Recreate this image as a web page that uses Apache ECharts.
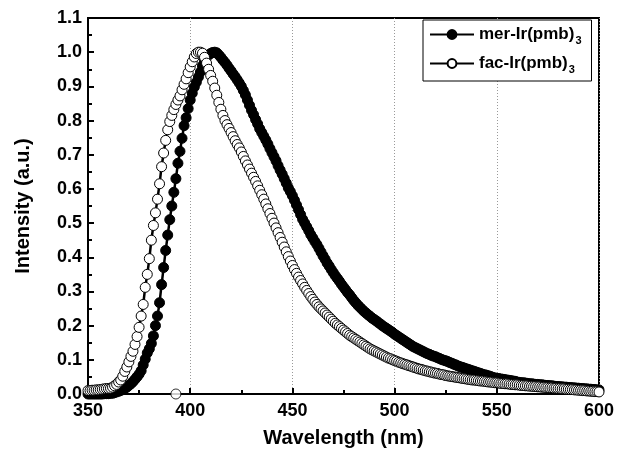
<!DOCTYPE html>
<html><head><meta charset="utf-8">
<script src="https://cdn.jsdelivr.net/npm/echarts@6/dist/echarts.min.js"></script>
<style>html,body{margin:0;padding:0;background:#fff}#c{width:629px;height:455px}</style>
</head><body><div id="c"></div>
<script>
const wavelength = [
350,351,352,353,354,355,356,357,358,359,
360,361,362,363,364,365,366,367,368,369,
370,371,372,373,374,375,376,377,378,379,
380,381,382,383,384,385,386,387,388,389,
390,391,392,393,394,395,396,397,398,399,
400,401,402,403,404,405,406,407,408,409,
410,411,412,413,414,415,416,417,418,419,
420,421,422,423,424,425,426,427,428,429,
430,431,432,433,434,435,436,437,438,439,
440,441,442,443,444,445,446,447,448,449,
450,451,452,453,454,455,456,457,458,459,
460,461,462,463,464,465,466,467,468,469,
470,471,472,473,474,475,476,477,478,479,
480,481,482,483,484,485,486,487,488,489,
490,491,492,493,494,495,496,497,498,499,
500,501,502,503,504,505,506,507,508,509,
510,511,512,513,514,515,516,517,518,519,
520,521,522,523,524,525,526,527,528,529,
530,531,532,533,534,535,536,537,538,539,
540,541,542,543,544,545,546,547,548,549,
550,551,552,553,554,555,556,557,558,559,
560,561,562,563,564,565,566,567,568,569,
570,571,572,573,574,575,576,577,578,579,
580,581,582,583,584,585,586,587,588,589,
590,591,592,593,594,595,596,597,598,599,
600];
const merIntensity = [
0,0,0,0,0,0,0,0,0.001,0.001,
0.001,0.002,0.002,0.004,0.006,0.008,0.01,0.013,0.016,0.02,
0.025,0.03,0.036,0.043,0.05,0.058,0.068,0.085,0.102,0.12,
0.132,0.148,0.17,0.2,0.228,0.267,0.32,0.37,0.42,0.465,
0.51,0.55,0.59,0.63,0.675,0.71,0.748,0.785,0.808,0.835,
0.86,0.88,0.898,0.912,0.927,0.942,0.96,0.975,0.986,0.992,
0.996,0.999,1.0,0.998,0.992,0.985,0.977,0.97,0.962,0.953,
0.945,0.936,0.928,0.919,0.91,0.9,0.888,0.875,0.86,0.845,
0.83,0.817,0.803,0.79,0.776,0.765,0.754,0.743,0.731,0.718,
0.706,0.694,0.682,0.668,0.655,0.643,0.63,0.617,0.603,0.592,
0.58,0.567,0.553,0.539,0.525,0.511,0.5,0.489,0.478,0.466,
0.456,0.446,0.437,0.426,0.415,0.404,0.394,0.383,0.374,0.364,
0.355,0.346,0.338,0.33,0.321,0.313,0.305,0.297,0.29,0.282,
0.274,0.267,0.26,0.254,0.248,0.242,0.237,0.232,0.227,0.222,
0.218,0.214,0.209,0.205,0.2,0.196,0.192,0.188,0.184,0.18,
0.175,0.171,0.167,0.163,0.159,0.155,0.151,0.147,0.143,0.139,
0.136,0.133,0.13,0.127,0.124,0.121,0.118,0.116,0.113,0.111,
0.109,0.106,0.104,0.101,0.099,0.097,0.095,0.092,0.09,0.087,
0.085,0.082,0.08,0.078,0.076,0.074,0.072,0.07,0.068,0.066,
0.064,0.062,0.06,0.058,0.056,0.055,0.053,0.051,0.049,0.047,
0.046,0.045,0.044,0.043,0.042,0.041,0.04,0.039,0.038,0.037,
0.035,0.034,0.033,0.033,0.032,0.031,0.03,0.03,0.029,0.028,
0.028,0.027,0.027,0.026,0.025,0.025,0.024,0.024,0.023,0.022,
0.022,0.021,0.021,0.02,0.02,0.019,0.019,0.018,0.018,0.017,
0.017,0.016,0.016,0.015,0.015,0.014,0.014,0.013,0.013,0.012,
0.012];
const facIntensity = [
0.01,0.01,0.011,0.011,0.012,0.012,0.013,0.014,0.015,0.016,
0.016,0.017,0.02,0.024,0.028,0.035,0.041,0.052,0.066,0.079,
0.094,0.11,0.125,0.145,0.168,0.195,0.228,0.262,0.312,0.35,
0.396,0.45,0.493,0.53,0.57,0.615,0.665,0.705,0.742,0.773,
0.797,0.815,0.832,0.847,0.86,0.872,0.89,0.906,0.922,0.94,
0.957,0.972,0.986,0.996,1.0,1.0,0.997,0.985,0.968,0.95,
0.932,0.915,0.895,0.874,0.853,0.833,0.815,0.8,0.788,0.777,
0.765,0.753,0.741,0.73,0.72,0.708,0.695,0.682,0.67,0.658,
0.646,0.634,0.622,0.609,0.596,0.583,0.57,0.556,0.542,0.528,
0.514,0.5,0.486,0.472,0.458,0.444,0.43,0.416,0.402,0.389,
0.376,0.364,0.353,0.342,0.332,0.322,0.312,0.303,0.294,0.285,
0.277,0.269,0.262,0.255,0.249,0.243,0.237,0.231,0.225,0.219,
0.213,0.207,0.202,0.197,0.192,0.187,0.182,0.177,0.172,0.168,
0.164,0.16,0.156,0.152,0.148,0.144,0.14,0.136,0.132,0.129,
0.126,0.123,0.12,0.117,0.114,0.111,0.108,0.105,0.103,0.1,
0.098,0.096,0.093,0.091,0.089,0.087,0.085,0.083,0.081,0.079,
0.077,0.075,0.073,0.072,0.07,0.068,0.067,0.065,0.064,0.062,
0.061,0.06,0.058,0.057,0.056,0.054,0.053,0.052,0.051,0.05,
0.049,0.048,0.047,0.046,0.045,0.044,0.043,0.042,0.041,0.041,
0.04,0.039,0.038,0.038,0.037,0.036,0.035,0.035,0.034,0.033,
0.033,0.032,0.031,0.031,0.03,0.03,0.029,0.028,0.028,0.027,
0.027,0.026,0.025,0.025,0.024,0.024,0.023,0.023,0.022,0.022,
0.021,0.021,0.02,0.02,0.019,0.019,0.018,0.018,0.017,0.017,
0.016,0.016,0.015,0.015,0.014,0.014,0.013,0.013,0.012,0.012,
0.011,0.011,0.01,0.01,0.009,0.009,0.008,0.008,0.007,0.007,
0.006];
const facOutlier = [[393, 0]];
const seriesNames = ['mer-Ir(pmb)3', 'fac-Ir(pmb)3'];
const xTicks = [350, 400, 450, 500, 550, 600];
const yTicks = [0.0,0.1,0.2,0.3,0.4,0.5,0.6,0.7,0.8,0.9,1.0,1.1];

const FONT = 'Liberation Sans, Arial, sans-serif';
const pairs = ys => wavelength.map((w, i) => [w, ys[i]]);

const chart = echarts.init(document.getElementById('c'), null, {renderer: 'canvas'});
chart.setOption({
  animation: false,
  backgroundColor: '#fff',
  grid: {left: 88, right: 30, top: 18, bottom: 61, show: true, borderColor: '#000', borderWidth: 2, backgroundColor: 'transparent'},
  legend: {
    data: seriesNames,
    orient: 'vertical',
    left: 423, top: 20,
    width: 171,
    padding: [6, 10, 6, 6],
    itemGap: 9,
    itemWidth: 44, itemHeight: 11,
    backgroundColor: '#fff',
    borderColor: '#000', borderWidth: 1,
    formatter: n => '{a|' + n.slice(0, -1) + '}{s|' + n.slice(-1) + '}',
    textStyle: {
      color: '#000',
      rich: {
        a: {fontFamily: FONT, fontWeight: 'bold', fontSize: 17, color: '#000'},
        s: {fontFamily: FONT, fontWeight: 'bold', fontSize: 11, color: '#000', padding: [12, 0, 0, 1]}
      }
    }
  },
  xAxis: {
    type: 'value', min: xTicks[0], max: xTicks[xTicks.length - 1], interval: 50,
    name: 'Wavelength (nm)', nameLocation: 'middle', nameGap: 34,
    nameTextStyle: {fontFamily: FONT, fontWeight: 'bold', fontSize: 20, color: '#000'},
    axisLine: {show: true, lineStyle: {color: '#000', width: 2}},
    axisTick: {show: true, inside: true, length: 6, lineStyle: {color: '#000', width: 2}},
    minorTick: {show: true, splitNumber: 2, length: 4, lineStyle: {color: '#000', width: 2}},
    axisLabel: {fontFamily: FONT, fontWeight: 'bold', fontSize: 18, color: '#000', margin: 8},
    splitLine: {show: true, lineStyle: {color: '#999', width: 1, type: [1, 2]}}
  },
  yAxis: {
    type: 'value', min: yTicks[0], max: yTicks[yTicks.length - 1], interval: 0.1,
    name: 'Intensity (a.u.)', nameLocation: 'middle', nameGap: 55,
    nameTextStyle: {fontFamily: FONT, fontWeight: 'bold', fontSize: 20, color: '#000'},
    axisLine: {show: true, lineStyle: {color: '#000', width: 2}},
    axisTick: {show: true, inside: true, length: 6, lineStyle: {color: '#000', width: 2}},
    minorTick: {show: true, splitNumber: 2, length: 4, lineStyle: {color: '#000', width: 2}},
    axisLabel: {fontFamily: FONT, fontWeight: 'bold', fontSize: 18, color: '#000', margin: 6,
      formatter: v => v.toFixed(1)},
    splitLine: {show: false}
  },
  series: [
    {
      name: seriesNames[0], type: 'line', data: pairs(merIntensity),
      symbol: 'circle', symbolSize: 10, showSymbol: true,
      lineStyle: {color: '#000', width: 2.5},
      itemStyle: {color: '#000', borderColor: '#000', borderWidth: 1},
      z: 3
    },
    {
      name: seriesNames[1], type: 'line', data: pairs(facIntensity),
      symbol: 'circle', symbolSize: 10, showSymbol: true,
      lineStyle: {color: '#000', width: 2.5},
      itemStyle: {color: '#fff', borderColor: '#000', borderWidth: 1},
      z: 4
    },
    {
      name: 'fac-outlier', type: 'scatter', data: facOutlier,
      symbol: 'circle', symbolSize: 10,
      itemStyle: {color: '#fff', borderColor: '#000', borderWidth: 1},
      z: 1
    }
  ]
});
</script></body></html>
